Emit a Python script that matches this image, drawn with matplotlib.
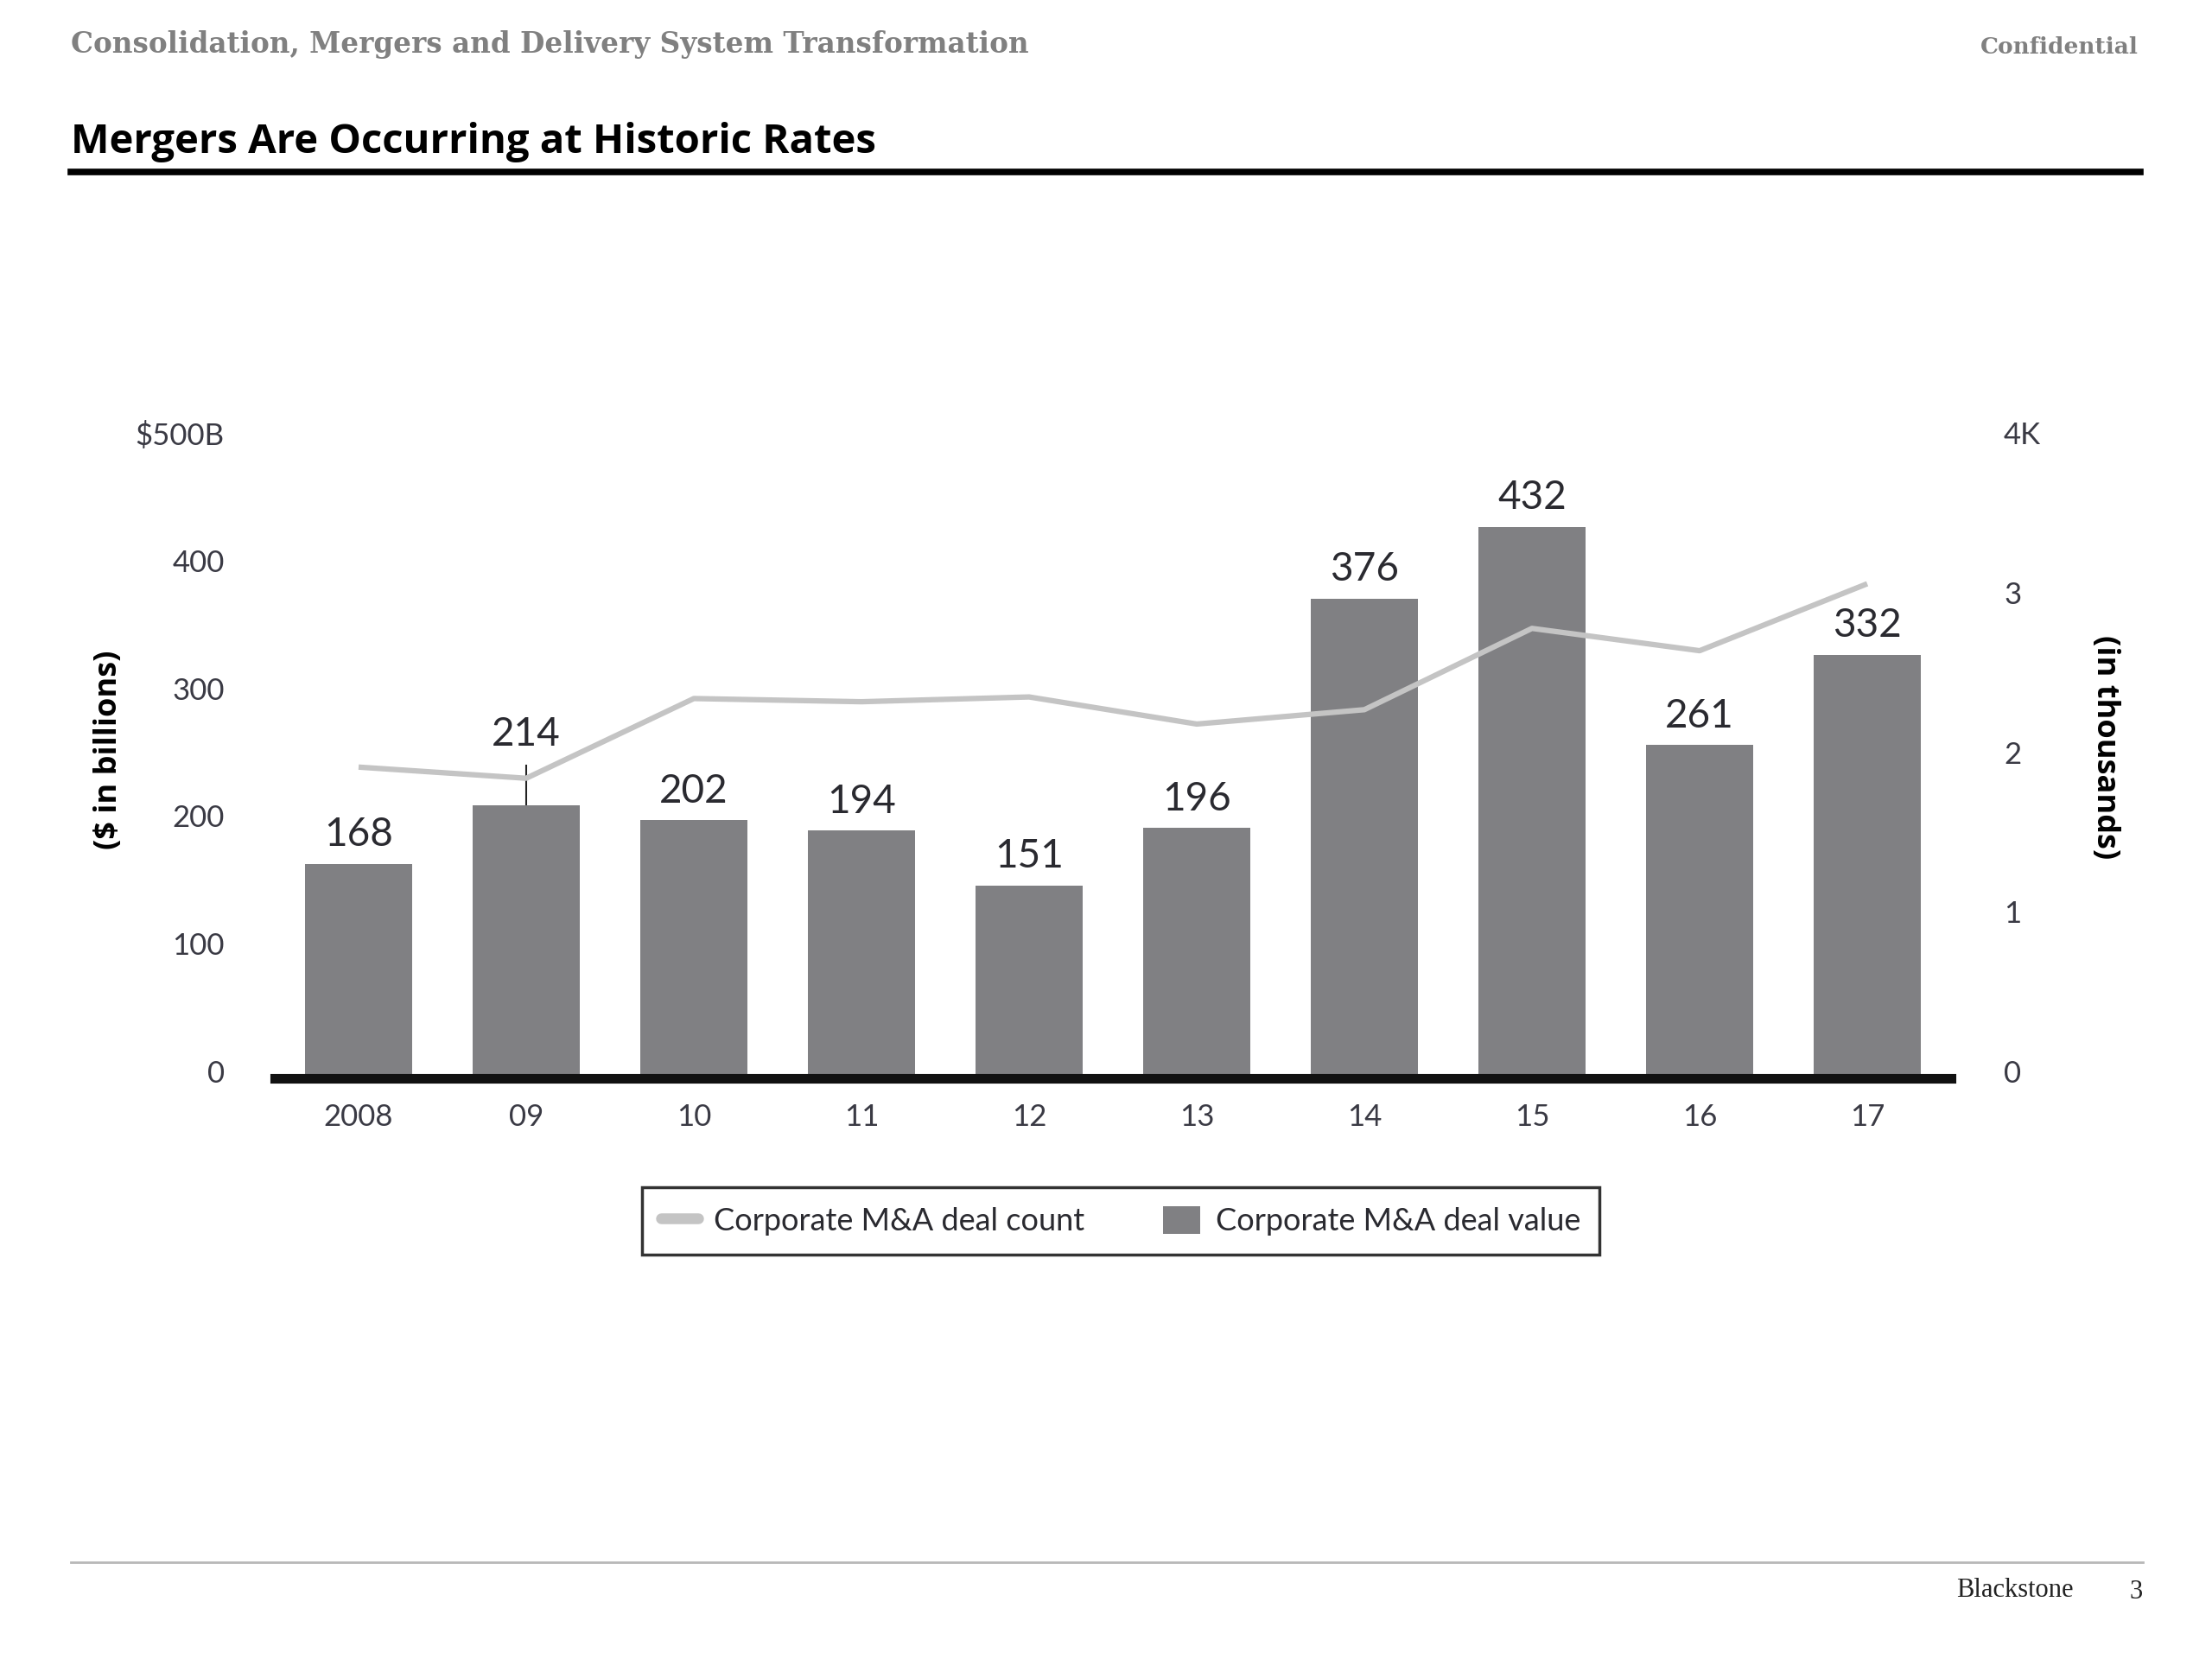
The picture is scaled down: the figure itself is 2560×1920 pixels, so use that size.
import numpy as np
import matplotlib.pyplot as plt
from matplotlib.lines import Line2D
from matplotlib.patches import Patch
from matplotlib.transforms import ScaledTranslation

# Data
years = ["2008", "09", "10", "11", "12", "13", "14", "15", "16", "17"]
deal_value = [168, 214, 202, 194, 151, 196, 376, 432, 261, 332]  # $ billions
deal_count = [1.95, 1.88, 2.38, 2.36, 2.39, 2.22, 2.31, 2.82, 2.68, 3.10]  # thousands

left_ticks = [0, 100, 200, 300, 400, 500]
left_labels = ["0", "100", "200", "300", "400", "$500B"]
right_ticks = [0, 1, 2, 3, 4]
right_labels = ["0", "1", "2", "3", "4K"]

BAR_GRAY = "#808083"
LINE_GRAY = "#c4c4c4"
TICK_COLOR = "#3a3a44"
CHART_FONT = "Lato"

W, H = 2560, 1920
fig = plt.figure(figsize=(25.6, 19.2), dpi=100)
fig.patch.set_facecolor("white")


def fx(px):
    return px / W


def fy(py):
    return 1 - py / H


# header
fig.text(fx(82), fy(51), "Consolidation, Mergers and Delivery System Transformation",
         family="DejaVu Serif", weight="bold", fontsize=23.5, color="#808080",
         ha="left", va="center")
fig.text(fx(2475), fy(55), "Confidential", family="DejaVu Serif", weight="bold",
         fontsize=19, color="#808080", ha="right", va="center")
fig.text(fx(82), fy(164), "Mergers Are Occurring at Historic Rates",
         family="Open Sans", weight="bold", fontsize=34, color="black",
         ha="left", va="center")
fig.add_artist(Line2D([fx(82), fx(2477)], [fy(199), fy(199)], color="black", lw=5.5))

# footer
fig.add_artist(Line2D([fx(82), fx(2480)], [fy(1808), fy(1808)], color="#b8b8b8", lw=2))
fig.text(fx(2400), fy(1840), "Blackstone", family="Liberation Serif", fontsize=22,
         color="#222222", ha="right", va="center")
fig.text(fx(2480), fy(1843), "3", family="Liberation Serif", fontsize=22,
         color="#222222", ha="right", va="center")

# chart axes
ax_left, ax_right = 318, 2258
ax_bottom, ax_top = 1247.6, 509.5
ax = fig.add_axes([fx(ax_left), fy(ax_bottom), fx(ax_right - ax_left),
                   (ax_bottom - ax_top) / H])
x = np.arange(len(years))
bars = ax.bar(x, deal_value, width=0.64, color=BAR_GRAY, zorder=2)
ax.set_xlim(-0.5, len(years) - 0.5)
ax.set_ylim(0, 500)

for xi, v in zip(x, deal_value):
    off = 44 if v == 214 else 9
    ax.annotate(str(v), (xi, v), xytext=(0, off), textcoords="offset points",
                ha="center", va="bottom", fontsize=33, family=CHART_FONT,
                color="#2a2a30")
# leader line from the 214 label down to its bar
ax.plot([1, 1], [214, 245], color="#222222", lw=1.5, zorder=1)

ax.set_yticks(left_ticks)
ax.set_yticklabels(left_labels, family=CHART_FONT, fontsize=25, color=TICK_COLOR)
ax.set_xticks(x)
ax.set_xticklabels(years, family=CHART_FONT, fontsize=25, color=TICK_COLOR)
ax.tick_params(axis="y", length=0, pad=42)
ax.tick_params(axis="x", length=0, pad=21)
for s in ["top", "left", "right"]:
    ax.spines[s].set_visible(False)
ax.spines["bottom"].set_linewidth(8)
ax.spines["bottom"].set_color("#111111")
ax.spines["bottom"].set_zorder(3)

ax2 = ax.twinx()
ax2.plot(x, deal_count, color=LINE_GRAY, lw=4.5, solid_capstyle="butt", zorder=4)
ax2.set_ylim(0, 4)
ax2.set_yticks(right_ticks)
ax2.set_yticklabels(right_labels, family=CHART_FONT, fontsize=25, color=TICK_COLOR)
ax2.tick_params(axis="y", length=0, pad=44)
for s in ["top", "left", "right", "bottom"]:
    ax2.spines[s].set_visible(False)

# tick labels in the slide sit a little above their gridline values
lift = ScaledTranslation(0, 0.08, fig.dpi_scale_trans)
for lab in ax.get_yticklabels() + ax2.get_yticklabels():
    lab.set_transform(lab.get_transform() + lift)

fig.text(fx(126), fy(868), "($ in billions)", rotation=90, family="Open Sans",
         weight="bold", fontsize=26, color="black", ha="center", va="center")
fig.text(fx(2436), fy(865), "(in thousands)", rotation=270, family="Open Sans",
         weight="bold", fontsize=26, color="black", ha="center", va="center")

# legend
handles = [Line2D([0], [0], color=LINE_GRAY, lw=9, solid_capstyle="round"),
           Patch(facecolor=BAR_GRAY, edgecolor="none")]
leg = fig.legend(handles, ["Corporate M&A deal count", "Corporate M&A deal value"],
                 loc="center", bbox_to_anchor=(fx(1297), fy(1413)), ncol=2,
                 frameon=True, fancybox=False, prop={"family": CHART_FONT, "size": 26},
                 handlelength=1.2, handleheight=1.0, handletextpad=0.5,
                 columnspacing=2.5, borderpad=0.6)
leg.get_frame().set_edgecolor("black")
leg.get_frame().set_linewidth(2.5)
for t in leg.get_texts():
    t.set_color("#2a2a30")

fig.savefig("out.png", dpi=100)
